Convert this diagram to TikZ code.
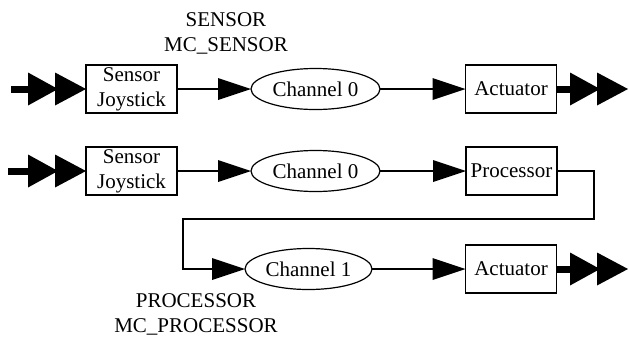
\documentclass[tikz,border=0pt]{standalone}
\usepackage{fontspec}
\setmainfont{Liberation Serif}
\newfontfamily\tmsfont{Liberation Serif}
\usetikzlibrary{arrows.meta,shapes.geometric}
\begin{document}
\begin{tikzpicture}[x=1pt,y=-1pt,
  every node/.style={font=\tmsfont\fontsize{21}{25}\selectfont, inner sep=0pt, outer sep=0pt},
  box/.style={draw, line width=1.2pt, minimum width=91pt, minimum height=48pt, align=center},
  chan/.style={draw, ellipse, line width=1.2pt, minimum width=129pt, minimum height=41pt},
  lbl/.style={align=center},
  single/.style={line width=1.2pt, -{Triangle[length=33pt,width=22pt,line width=0pt]}},
  bar/.style={line width=7pt},
  dtip/.pic={
    \fill (-58,-16.5) -- (-28,0) -- (-58,16.5) -- cycle;
    \fill (-31,-16.5) -- (0,0) -- (-31,16.5) -- cycle;
  }
]
\useasboundingbox (0,0) rectangle (629,338);

% row 1
\node[box] (s1) at (131.5,89) {Sensor\\Joystick};
\node[chan] (c0a) at (315.5,89) {Channel 0};
\node[box] (a1) at (511,89) {Actuator};
\node[lbl] (l1) at (226,33.5) {SENSOR\\MC\_SENSOR};
\coordinate (in1) at (11,89);
\coordinate (out1) at (628,89);

% row 2
\node[box] (s2) at (131.5,171) {Sensor\\Joystick};
\node[chan] (c0b) at (315.5,171) {Channel 0};
\node[box] (p) at (511.5,171) {Processor};
\coordinate (in2) at (8,171);
\coordinate (k1) at (594,219);
\coordinate (k2) at (183,219);

% row 3
\node[chan, minimum width=127pt] (c1) at (308.5,269) {Channel 1};
\node[box] (a2) at (511,269) {Actuator};
\node[lbl] (l2) at (196,314) {PROCESSOR\\MC\_PROCESSOR};
\coordinate (out2) at (628,269);

% connectors
\draw[bar] (in1) -- ([xshift=-50pt]s1.west);
\pic at (s1.west) {dtip};
\draw[single] (s1.east) -- (c0a.west);
\draw[single] (c0a.east) -- (a1.west);
\draw[bar] (a1.east) -- ([xshift=-50pt]out1);
\pic at (out1) {dtip};

\draw[bar] (in2) -- ([xshift=-50pt]s2.west);
\pic at (s2.west) {dtip};
\draw[single] (s2.east) -- (c0b.west);
\draw[single] (c0b.east) -- (p.west);
\draw[single] (p.east) -| (k1) -- (k2) |- (c1.west);
\draw[single] (c1.east) -- (a2.west);
\draw[bar] (a2.east) -- ([xshift=-50pt]out2);
\pic at (out2) {dtip};
\end{tikzpicture}
\end{document}
